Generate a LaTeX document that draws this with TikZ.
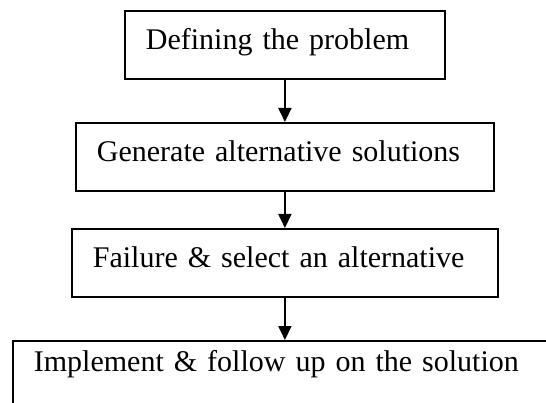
\documentclass[tikz,border=0pt]{standalone}
\usepackage{fontspec}
\setmainfont{Liberation Serif}
\usetikzlibrary{arrows.meta,positioning}

\begin{document}
\begin{tikzpicture}[x=1pt,y=-1pt,
			stepbox/.style={draw,line width=1.8pt,anchor=north west,align=left,
				inner xsep=21pt,inner ysep=19pt,text height=20pt,text depth=10pt,
				font=\fontsize{30}{36}\selectfont},
			flow/.style={line width=1.8pt,-{Triangle[width=13pt,length=14pt]}}
		]
		\useasboundingbox (0,0) rectangle (546,403);
		\clip (0,0) rectangle (546,403);

		\node[stepbox,text width=278pt] (define) at (124,10) {Defining the problem};
		\node[stepbox,text width=376pt] (generate) at (75,122) {Generate alternative solutions};
		\node[stepbox,text width=384pt] (failure) at (71,228) {Failure \& select an alternative};
		% last box runs off the page at the bottom and right
		\node[stepbox,text width=558pt,text height=12pt,text depth=50pt] (implement) at (12,340) {Implement \& follow up on the solution};

		\draw[flow] (define) -- (generate);
		\draw[flow] (generate) -- (failure);
		\draw[flow] (failure) -- (failure |- implement.north);

	\end{tikzpicture}
\end{document}
